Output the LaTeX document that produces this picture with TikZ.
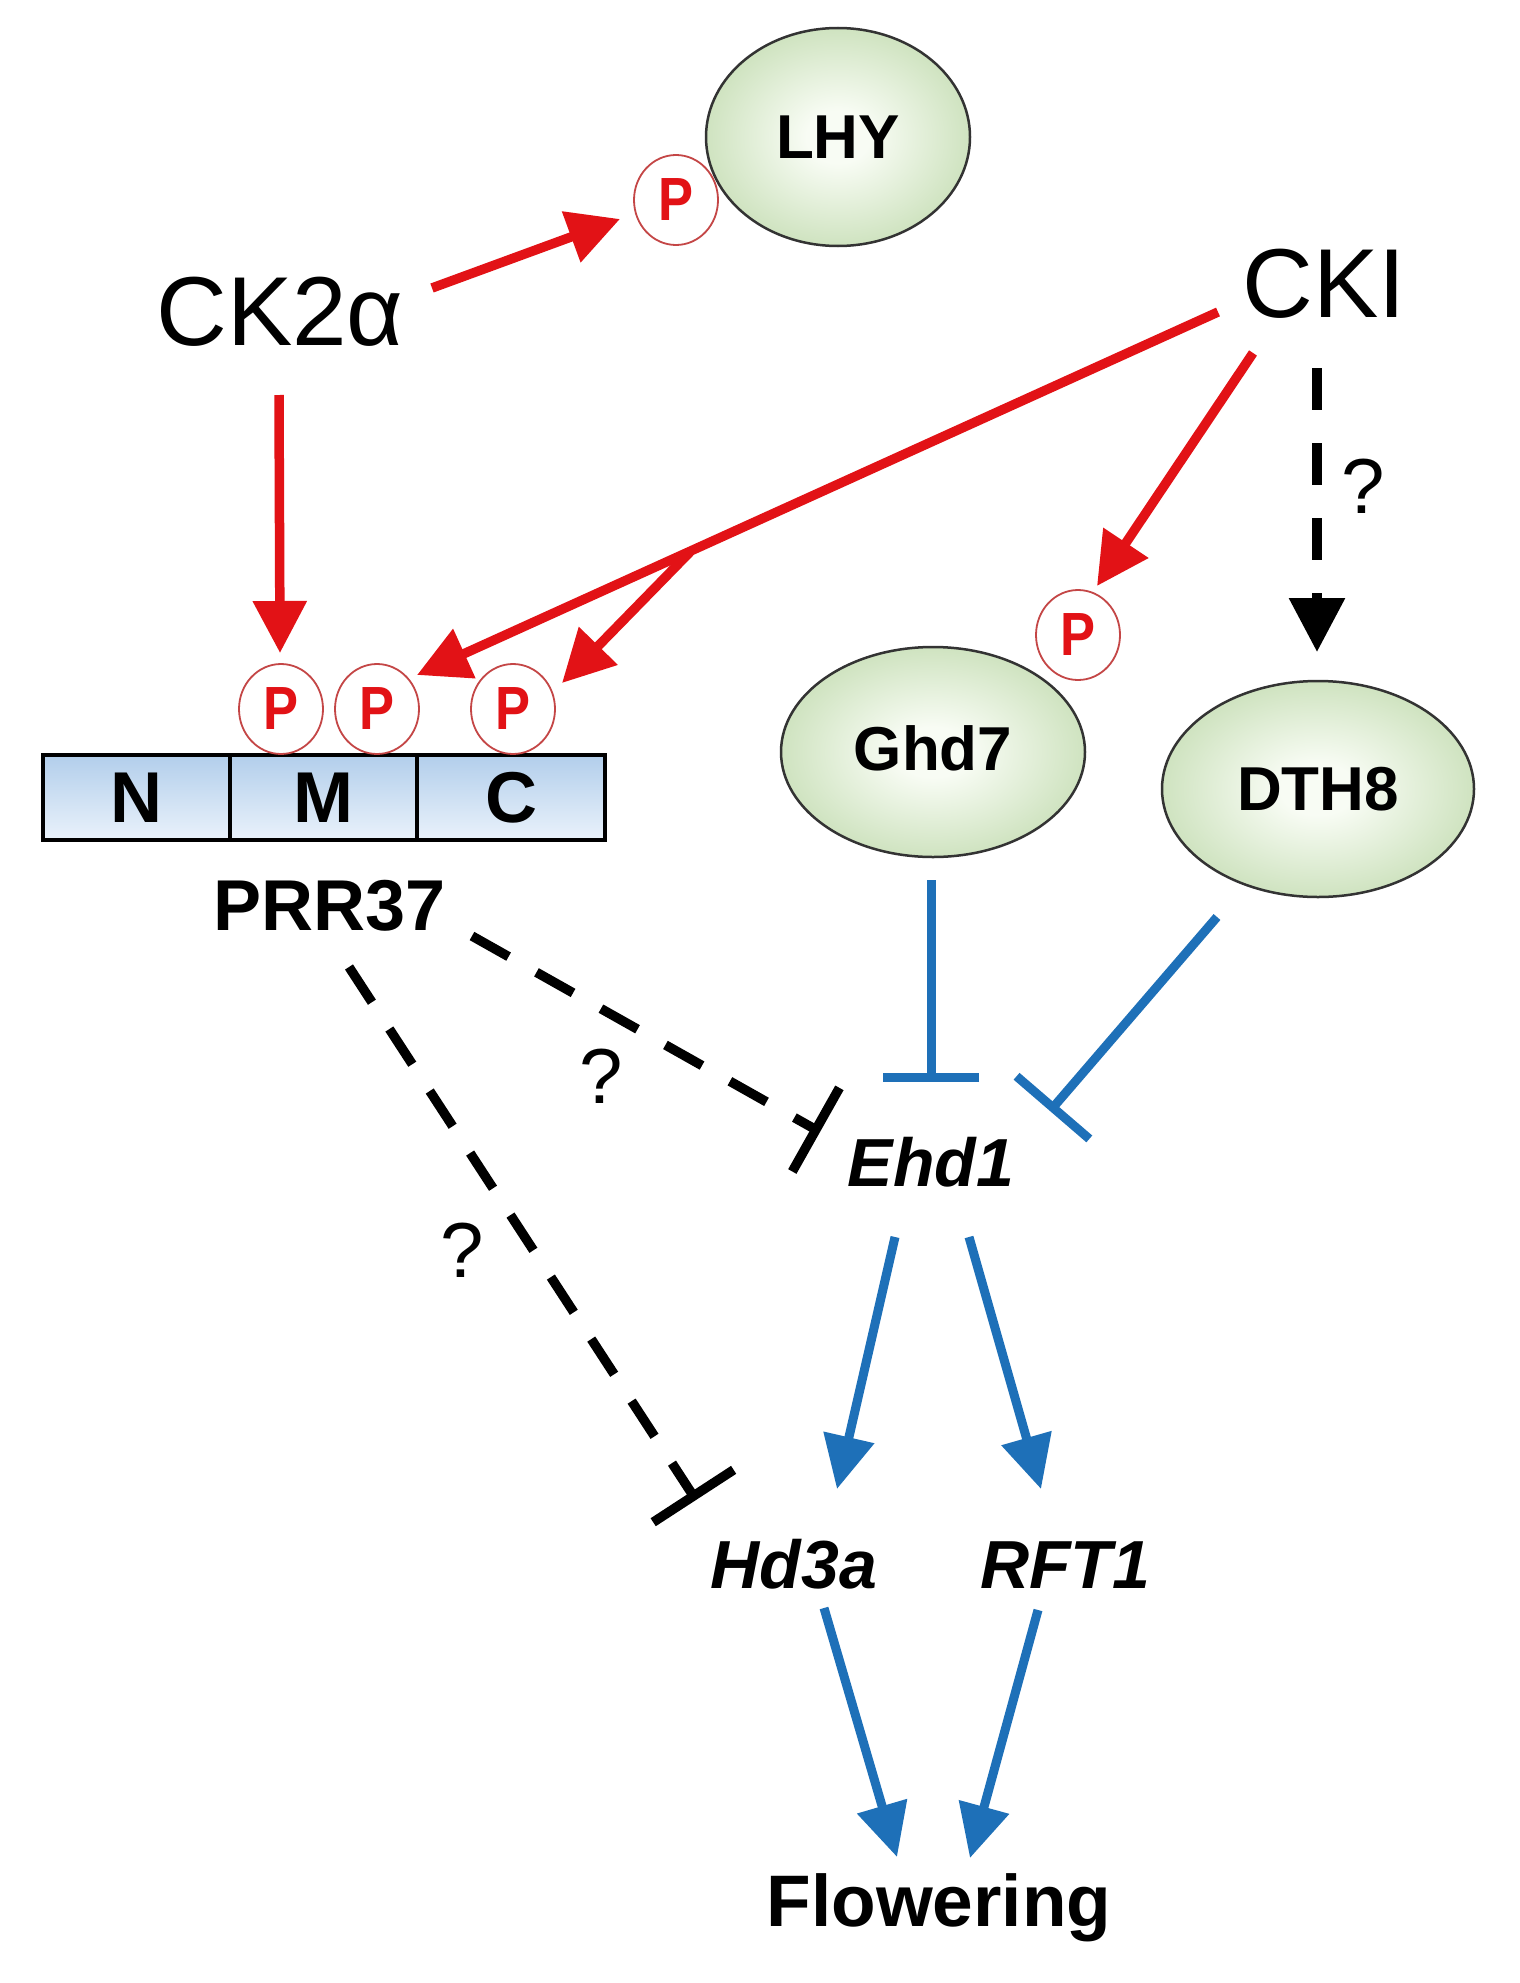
\documentclass[tikz,border=0pt]{standalone}
\usepackage{fontspec}
\setmainfont{Liberation Sans}
\usetikzlibrary{arrows.meta,shapes.geometric}
\definecolor{myred}{RGB}{226,18,22}
\definecolor{myblue}{RGB}{30,112,184}
\definecolor{gout}{RGB}{166,202,140}
\definecolor{gin}{RGB}{248,252,244}
\definecolor{boxtop}{RGB}{178,206,235}
\definecolor{boxbot}{RGB}{234,242,251}
\definecolor{pcirc}{RGB}{196,70,70}
\pgfdeclareradialshading{protglow}{\pgfpoint{0bp}{0bp}}{color(0bp)=(gin); color(6bp)=(gin); color(44bp)=(gout); color(100bp)=(gout)}
\newcommand\fsz[1]{\fontsize{#1}{#1}\selectfont}
\newcommand\narrowP{\scalebox{0.86}[1]{P}}
\tikzset{
  prot/.style={ellipse, draw=black!80, line width=2.5pt, shade, shading=protglow, inner sep=0pt, font=\fsz{62}\bfseries},
  phos/.style={ellipse, draw=pcirc, line width=1.8pt, fill=white, minimum width=84pt, minimum height=90pt, inner sep=0pt, text=myred, font=\fsz{61}\bfseries},
  cell/.style={rectangle, draw=black, line width=4.5pt, top color=boxtop, bottom color=boxbot, minimum height=85pt, inner sep=0pt, font=\fsz{72}\bfseries},
  kinase/.style={anchor=base, inner sep=0pt, font=\fsz{98}},
  gene/.style={anchor=base, inner sep=0pt, font=\fsz{68}\bfseries\itshape},
  qmark/.style={inner sep=0pt, font=\fsz{78}},
  redarr/.style={draw=myred, line width=9.5pt, -{Triangle[width=52pt,length=52pt]}},
  bluearr/.style={draw=myblue, line width=9pt, -{Triangle[width=50pt,length=53pt]}},
  blueinh/.style={draw=myblue, line width=9pt, -{Bar[width=96pt]}},
  dashinh/.style={draw=black, line width=9.5pt, dash pattern=on 42pt off 32pt, -{Bar[width=96pt]}},
  dasharr/.style={draw=black, line width=9.5pt, dash pattern=on 42pt off 33pt, -{Triangle[width=54pt,length=54pt]}}
}
\begin{document}
\begin{tikzpicture}[x=1pt,y=-1pt]
\fill[white] (0,0) rectangle (1519,1983);
\useasboundingbox (0,0) rectangle (1519,1983);

% proteins
\node[prot, minimum width=264pt, minimum height=218pt] (lhy) at (838,137) {LHY};
\node[prot, minimum width=304pt, minimum height=210pt] (ghd7) at (933,752) {\raisebox{8pt}{Ghd7}};
\node[prot, minimum width=312pt, minimum height=216pt] (dth8) at (1318,789) {DTH8};

% kinases
\node[kinase] (ck2a) at (280,345) {CK2α};
\node[kinase] (cki) at (1324,317) {CKI};

% PRR37 domains
\node[cell, minimum width=187pt] (dn) at (136.5,797.5) {N};
\node[cell, minimum width=187pt] (dm) at (323.5,797.5) {M};
\node[cell, minimum width=188pt] (dc) at (511,797.5) {C};
\node[anchor=base, inner sep=0pt, font=\fsz{72}\bfseries] (prr) at (330,930) {PRR37};

% phosphates
\node[phos] (plhy) at (676,200) {\narrowP};
\node[phos] (pm1) at (281,709) {\narrowP};
\node[phos] (pm2) at (377,709) {\narrowP};
\node[phos] (pc) at (513,709) {\narrowP};
\node[phos] (pg) at (1078,635) {\narrowP};

% genes
\node[gene] (ehd1) at (931,1186) {Ehd1};
\node[gene] (hd3a) at (794,1588) {Hd3a};
\node[gene] (rft1) at (1065,1588) {RFT1};
\node[anchor=base, inner sep=0pt, font=\fsz{73}\bfseries] (flw) at (939,1926) {Flowering};

% question marks
\node[qmark] (q1) at (1363,486) {?};
\node[qmark] (q2) at (601,1076) {?};
\node[qmark] (q3) at (462,1250) {?};

% connector end points
\coordinate (ck2a-r) at (432,288);
\coordinate (plhy-in) at (620,219);
\coordinate (ck2a-b) at (279,395);
\coordinate (pm1-in) at (280,653);
\coordinate (cki-l) at (1218,312);
\coordinate (pm2-in) at (417,675);
\coordinate (split) at (690,552);
\coordinate (pc-in) at (562,683);
\coordinate (cki-d) at (1253,353);
\coordinate (pg-in) at (1097,586);
\coordinate (cki-b) at (1317,368);
\coordinate (dth8-in) at (1317,652);
\coordinate (ghd7-out) at (931,880);
\coordinate (ehd1-t) at (931,1082);
\coordinate (dth8-out) at (1217,917);
\coordinate (ehd1-r) at (1050,1111);
\coordinate (prr-r) at (472,936);
\coordinate (ehd1-l) at (820,1132);
\coordinate (prr-b) at (349,967);
\coordinate (hd3a-l) at (696,1500);
\coordinate (ehd1-bl) at (895,1237);
\coordinate (hd3a-t) at (837,1489);
\coordinate (ehd1-br) at (969,1237);
\coordinate (rft1-t) at (1041,1489);
\coordinate (hd3a-b) at (824,1608);
\coordinate (flw-l) at (897,1857);
\coordinate (rft1-b) at (1038,1610);
\coordinate (flw-r) at (970,1858);

% red phosphorylation arrows
\draw[redarr] (ck2a-r) -- (plhy-in);
\draw[redarr] (ck2a-b) -- (pm1-in);
\draw[redarr] (cki-l) -- (pm2-in);
\draw[redarr] (split) -- (pc-in);
\draw[redarr] (cki-d) -- (pg-in);

% dashed CKI -> DTH8
\draw[dasharr] (cki-b) -- (dth8-in);

% blue inhibitions
\draw[blueinh] (ghd7-out) -- (ehd1-t);
\draw[blueinh] (dth8-out) -- (ehd1-r);

% dashed inhibitions from PRR37
\draw[dashinh] (prr-r) -- (ehd1-l);
\draw[dashinh] (prr-b) -- (hd3a-l);

% blue activations
\draw[bluearr] (ehd1-bl) -- (hd3a-t);
\draw[bluearr] (ehd1-br) -- (rft1-t);
\draw[bluearr] (hd3a-b) -- (flw-l);
\draw[bluearr] (rft1-b) -- (flw-r);
\end{tikzpicture}
\end{document}
